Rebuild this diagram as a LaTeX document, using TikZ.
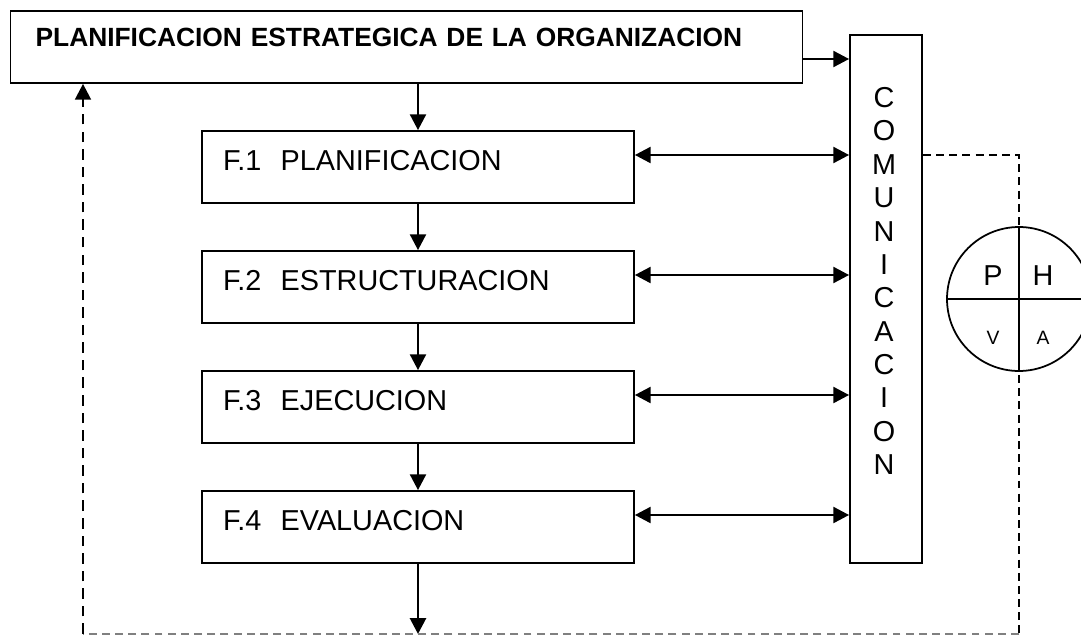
\documentclass[tikz,border=0pt]{standalone}
\usepackage{fontspec}
\setmainfont{Liberation Sans}
\usetikzlibrary{arrows.meta}
\begin{document}
\begin{tikzpicture}[x=0.02cm,y=-0.02cm,
    caja/.style={draw,line width=1pt,inner ysep=0pt,align=left},
    fase/.style={caja,inner xsep=0.42cm,text width=7.8cm,text height=0.78cm,text depth=0.66cm,font=\fontsize{16.4}{19}\selectfont},
    flecha/.style={line width=1.6pt,-{Triangle[length=9pt,width=9pt]}},
    doble/.style={line width=1.6pt,{Triangle[length=9pt,width=9pt]}-{Triangle[length=9pt,width=9pt]}},
    letra/.style={inner sep=0pt,font=\fontsize{16.4}{19}\selectfont}]
    \useasboundingbox (0,0) rectangle (1081,635);
    \clip (0,0) rectangle (1081,635);
    % bloques
    \node[caja,inner xsep=0.5cm,text width=14.84cm,text height=0.72cm,text depth=0.72cm,
          font=\bfseries\fontsize{15}{18}\selectfont] (org) at (406.5,47)
          {PLANIFICACION ESTRATEGICA DE LA ORGANIZACION};
    \node[fase] (f1) at (418,167) {F.1\ \ PLANIFICACION};
    \node[fase] (f2) at (418,287) {F.2\ \ ESTRUCTURACION};
    \node[fase] (f3) at (418,407) {F.3\ \ EJECUCION};
    \node[fase] (f4) at (418,527) {F.4\ \ EVALUACION};
    \node[draw,line width=1pt,minimum width=1.44cm,minimum height=10.56cm] (com) at (886,299) {};
    \node[inner sep=0pt,anchor=north,align=center,font=\fontsize{16.4}{19}\selectfont] (comtxt) at (884,87)
          {C\\O\\M\\U\\N\\I\\C\\A\\C\\I\\O\\N};
    % circulo PHVA
    \node[draw,circle,line width=1pt,minimum size=2.88cm,inner sep=0pt] (phva) at (1019,299) {};
    \draw[line width=1pt] (phva.north) -- (phva.south);
    \draw[line width=1pt] (phva.west) -- (phva.east);
    \node[letra] (p) at (993,276) {P};
    \node[letra] (h) at (1043,276) {H};
    \node[letra,font=\fontsize{11}{12}\selectfont] (v) at (993,338) {V};
    \node[letra,font=\fontsize{11}{12}\selectfont] (a) at (1043,338) {A};
    % flechas
    \draw[flecha] ([yshift=-0.24cm]org.east) -- ([yshift=-0.24cm]org.east -| com.west);
    \draw[flecha] (f1.north |- org.south) -- (f1.north);
    \draw[flecha] (f1) -- (f2);
    \draw[flecha] (f2) -- (f3);
    \draw[flecha] (f3) -- (f4);
    \foreach \f in {f1,f2,f3,f4}{
        \draw[doble] ([yshift=0.24cm]\f.east) -- ([yshift=0.24cm]\f.east -| com.west);
    }
    \coordinate (dr) at (1019,634);
    \coordinate (dl) at (83,634);
    \draw[flecha] (f4.south) -- (f4.south |- dr);
    \draw[dash pattern=on 4.5pt off 3pt,line width=0.7pt] ([yshift=0.24cm]f1.east -| com.east) -| (dr);
    \draw[dash pattern=on 4.5pt off 3pt,line width=0.7pt,gray] (dr) -- (dl);
    \draw[dash pattern=on 6pt off 4pt,line width=1.4pt,-{Triangle[length=9pt,width=9pt]}] (dl) -- (dl |- org.south);
\end{tikzpicture}
\end{document}
